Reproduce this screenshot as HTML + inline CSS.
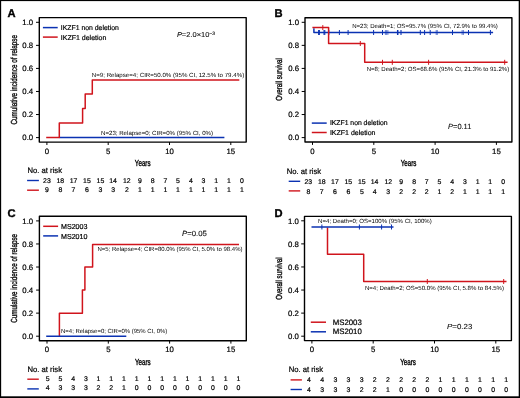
<!DOCTYPE html><html><head><meta charset="utf-8"><style>html,body{margin:0;padding:0;background:#fff;}svg{display:block;will-change:transform;}text{font-family:"Liberation Sans",sans-serif;text-rendering:geometricPrecision;stroke:#000;stroke-width:0.2px;}.ann{stroke-width:0;}.pv{stroke-width:0.1px;}</style></head><body>
<svg width="520" height="398" viewBox="0 0 520 398">
<rect x="0" y="0" width="520" height="398" fill="#fff"/>
<path d="M39.30,17.60 H246.20 V142.10 H39.30 Z" fill="none" stroke="#000" stroke-linejoin="round" stroke-width="1.4"/>
<line x1="36.00" y1="22.30" x2="39.30" y2="22.30" stroke="#000" stroke-width="1.0"/>
<text x="33.20" y="25.00" font-size="7.8" text-anchor="end" >1.0</text>
<line x1="36.00" y1="45.36" x2="39.30" y2="45.36" stroke="#000" stroke-width="1.0"/>
<text x="33.20" y="48.06" font-size="7.8" text-anchor="end" >0.8</text>
<line x1="36.00" y1="68.42" x2="39.30" y2="68.42" stroke="#000" stroke-width="1.0"/>
<text x="33.20" y="71.12" font-size="7.8" text-anchor="end" >0.6</text>
<line x1="36.00" y1="91.48" x2="39.30" y2="91.48" stroke="#000" stroke-width="1.0"/>
<text x="33.20" y="94.18" font-size="7.8" text-anchor="end" >0.4</text>
<line x1="36.00" y1="114.54" x2="39.30" y2="114.54" stroke="#000" stroke-width="1.0"/>
<text x="33.20" y="117.24" font-size="7.8" text-anchor="end" >0.2</text>
<line x1="36.00" y1="137.60" x2="39.30" y2="137.60" stroke="#000" stroke-width="1.0"/>
<text x="33.20" y="140.30" font-size="7.8" text-anchor="end" >0.0</text>
<line x1="46.90" y1="142.10" x2="46.90" y2="145.00" stroke="#000" stroke-width="1.0"/>
<text x="46.90" y="153.50" font-size="7.8" text-anchor="middle" >0</text>
<line x1="108.20" y1="142.10" x2="108.20" y2="145.00" stroke="#000" stroke-width="1.0"/>
<text x="108.20" y="153.50" font-size="7.8" text-anchor="middle" >5</text>
<line x1="169.50" y1="142.10" x2="169.50" y2="145.00" stroke="#000" stroke-width="1.0"/>
<text x="169.50" y="153.50" font-size="7.8" text-anchor="middle" >10</text>
<line x1="230.80" y1="142.10" x2="230.80" y2="145.00" stroke="#000" stroke-width="1.0"/>
<text x="230.80" y="153.50" font-size="7.8" text-anchor="middle" >15</text>
<text transform="translate(17.40,79.75) rotate(-90)" x="0" y="0" font-size="8.8" font-weight="normal" style="stroke-width:0.36px" text-anchor="middle" textLength="89.5" lengthAdjust="spacingAndGlyphs" fill="#111">Cumulative incidence of relapse</text>
<text x="142.70" y="165.80" font-size="8.8" text-anchor="middle" textLength="15.7" lengthAdjust="spacingAndGlyphs" font-weight="normal" style="stroke-width:0.36px">Years</text>
<text x="7.60" y="16.70" font-size="11.2" font-weight="bold" fill="#000" style="stroke-width:0.35px">A</text>
<path d="M59.3,137.5 H224.4" fill="none" stroke="#0b32b2" stroke-width="1.5" stroke-linejoin="round" stroke-linecap="butt"/>
<path d="M46.2,137.5 H59.3 V123.0 H82.6 V108.6 H85.2 V94.1 H92.3 V80.0 H239.3" fill="none" stroke="#d0141c" stroke-width="1.5" stroke-linejoin="round" stroke-linecap="butt"/>
<text x="91.80" y="77.30" font-size="6.0" textLength="152.4" lengthAdjust="spacingAndGlyphs" class="ann">N=9; Relapse=4; CIR=50.0% (95% CI, 12.5% to 79.4%)</text>
<text x="101.00" y="134.70" font-size="6.0" textLength="112.1" lengthAdjust="spacingAndGlyphs" class="ann">N=23; Relapse=0; CIR=0% (95% CI, 0%)</text>
<line x1="42.90" y1="27.60" x2="57.70" y2="27.60" stroke="#0b32b2" stroke-width="1.5"/>
<text x="60.80" y="30.30" font-size="7.0" textLength="58.0" lengthAdjust="spacingAndGlyphs" >IKZF1 non deletion</text>
<line x1="42.90" y1="37.10" x2="57.70" y2="37.10" stroke="#d0141c" stroke-width="1.5"/>
<text x="60.80" y="39.90" font-size="7.0" >IKZF1 deletion</text>
<text class="pv" x="176.9" y="37.3" font-size="7.1" fill="#111" textLength="38.2" lengthAdjust="spacingAndGlyphs"><tspan font-style="italic">P</tspan>=2.0×10<tspan font-size="4.8" dy="-2.7">−3</tspan></text>
<text x="27.50" y="173.00" font-size="7.9" textLength="34.5" lengthAdjust="spacingAndGlyphs" >No. at risk</text>
<line x1="27.10" y1="180.50" x2="38.90" y2="180.50" stroke="#0b32b2" stroke-width="1.4"/>
<line x1="27.10" y1="190.20" x2="38.90" y2="190.20" stroke="#d0141c" stroke-width="1.4"/>
<text x="46.90" y="182.90" font-size="6.9" text-anchor="middle" >23</text>
<text x="46.90" y="192.30" font-size="6.9" text-anchor="middle" >9</text>
<text x="60.30" y="182.90" font-size="6.9" text-anchor="middle" >18</text>
<text x="60.30" y="192.30" font-size="6.9" text-anchor="middle" >8</text>
<text x="73.50" y="182.90" font-size="6.9" text-anchor="middle" >17</text>
<text x="73.50" y="192.30" font-size="6.9" text-anchor="middle" >7</text>
<text x="86.90" y="182.90" font-size="6.9" text-anchor="middle" >15</text>
<text x="86.90" y="192.30" font-size="6.9" text-anchor="middle" >6</text>
<text x="100.40" y="182.90" font-size="6.9" text-anchor="middle" >15</text>
<text x="100.40" y="192.30" font-size="6.9" text-anchor="middle" >3</text>
<text x="113.10" y="182.90" font-size="6.9" text-anchor="middle" >14</text>
<text x="113.10" y="192.30" font-size="6.9" text-anchor="middle" >3</text>
<text x="126.80" y="182.90" font-size="6.9" text-anchor="middle" >12</text>
<text x="126.80" y="192.30" font-size="6.9" text-anchor="middle" >2</text>
<text x="139.80" y="182.90" font-size="6.9" text-anchor="middle" >9</text>
<text x="139.80" y="192.30" font-size="6.9" text-anchor="middle" >1</text>
<text x="152.70" y="182.90" font-size="6.9" text-anchor="middle" >8</text>
<text x="152.70" y="192.30" font-size="6.9" text-anchor="middle" >1</text>
<text x="165.30" y="182.90" font-size="6.9" text-anchor="middle" >7</text>
<text x="165.30" y="192.30" font-size="6.9" text-anchor="middle" >1</text>
<text x="178.00" y="182.90" font-size="6.9" text-anchor="middle" >5</text>
<text x="178.00" y="192.30" font-size="6.9" text-anchor="middle" >1</text>
<text x="190.80" y="182.90" font-size="6.9" text-anchor="middle" >4</text>
<text x="190.80" y="192.30" font-size="6.9" text-anchor="middle" >1</text>
<text x="203.40" y="182.90" font-size="6.9" text-anchor="middle" >3</text>
<text x="203.40" y="192.30" font-size="6.9" text-anchor="middle" >1</text>
<text x="216.10" y="182.90" font-size="6.9" text-anchor="middle" >1</text>
<text x="216.10" y="192.30" font-size="6.9" text-anchor="middle" >1</text>
<text x="228.80" y="182.90" font-size="6.9" text-anchor="middle" >1</text>
<text x="228.80" y="192.30" font-size="6.9" text-anchor="middle" >1</text>
<text x="241.80" y="182.90" font-size="6.9" text-anchor="middle" >0</text>
<text x="241.80" y="192.30" font-size="6.9" text-anchor="middle" >1</text>
<path d="M305.00,17.70 H511.90 V142.00 H305.00 Z" fill="none" stroke="#000" stroke-linejoin="round" stroke-width="1.4"/>
<line x1="301.70" y1="22.30" x2="305.00" y2="22.30" stroke="#000" stroke-width="1.0"/>
<text x="299.10" y="25.00" font-size="7.8" text-anchor="end" >1.0</text>
<line x1="301.70" y1="45.36" x2="305.00" y2="45.36" stroke="#000" stroke-width="1.0"/>
<text x="299.10" y="48.06" font-size="7.8" text-anchor="end" >0.8</text>
<line x1="301.70" y1="68.42" x2="305.00" y2="68.42" stroke="#000" stroke-width="1.0"/>
<text x="299.10" y="71.12" font-size="7.8" text-anchor="end" >0.6</text>
<line x1="301.70" y1="91.48" x2="305.00" y2="91.48" stroke="#000" stroke-width="1.0"/>
<text x="299.10" y="94.18" font-size="7.8" text-anchor="end" >0.4</text>
<line x1="301.70" y1="114.54" x2="305.00" y2="114.54" stroke="#000" stroke-width="1.0"/>
<text x="299.10" y="117.24" font-size="7.8" text-anchor="end" >0.2</text>
<line x1="301.70" y1="137.60" x2="305.00" y2="137.60" stroke="#000" stroke-width="1.0"/>
<text x="299.10" y="140.30" font-size="7.8" text-anchor="end" >0.0</text>
<line x1="312.50" y1="142.00" x2="312.50" y2="144.90" stroke="#000" stroke-width="1.0"/>
<text x="312.50" y="153.50" font-size="7.8" text-anchor="middle" >0</text>
<line x1="373.80" y1="142.00" x2="373.80" y2="144.90" stroke="#000" stroke-width="1.0"/>
<text x="373.80" y="153.50" font-size="7.8" text-anchor="middle" >5</text>
<line x1="435.10" y1="142.00" x2="435.10" y2="144.90" stroke="#000" stroke-width="1.0"/>
<text x="435.10" y="153.50" font-size="7.8" text-anchor="middle" >10</text>
<line x1="496.40" y1="142.00" x2="496.40" y2="144.90" stroke="#000" stroke-width="1.0"/>
<text x="496.40" y="153.50" font-size="7.8" text-anchor="middle" >15</text>
<text transform="translate(282.30,79.40) rotate(-90)" x="0" y="0" font-size="8.8" font-weight="normal" style="stroke-width:0.36px" text-anchor="middle" textLength="42.5" lengthAdjust="spacingAndGlyphs" fill="#111">Overall survival</text>
<text x="408.60" y="165.80" font-size="8.8" text-anchor="middle" textLength="15.7" lengthAdjust="spacingAndGlyphs" font-weight="normal" style="stroke-width:0.36px">Years</text>
<text x="274.60" y="16.80" font-size="11.2" font-weight="bold" fill="#000" style="stroke-width:0.35px">B</text>
<path d="M313.9,28.2 V32.5 H493.1" fill="none" stroke="#0b32b2" stroke-width="1.5" stroke-linejoin="round" stroke-linecap="butt"/>
<line x1="318.60" y1="30.00" x2="318.60" y2="35.00" stroke="#0b32b2" stroke-width="1.0"/>
<line x1="319.40" y1="30.00" x2="319.40" y2="35.00" stroke="#0b32b2" stroke-width="1.0"/>
<line x1="324.00" y1="30.00" x2="324.00" y2="35.00" stroke="#0b32b2" stroke-width="1.0"/>
<line x1="324.80" y1="30.00" x2="324.80" y2="35.00" stroke="#0b32b2" stroke-width="1.0"/>
<line x1="328.80" y1="30.00" x2="328.80" y2="35.00" stroke="#0b32b2" stroke-width="1.0"/>
<line x1="339.40" y1="30.00" x2="339.40" y2="35.00" stroke="#0b32b2" stroke-width="1.0"/>
<line x1="348.10" y1="30.00" x2="348.10" y2="35.00" stroke="#0b32b2" stroke-width="1.0"/>
<line x1="373.60" y1="30.00" x2="373.60" y2="35.00" stroke="#0b32b2" stroke-width="1.0"/>
<line x1="382.50" y1="30.00" x2="382.50" y2="35.00" stroke="#0b32b2" stroke-width="1.0"/>
<line x1="420.30" y1="30.00" x2="420.30" y2="35.00" stroke="#0b32b2" stroke-width="1.0"/>
<line x1="424.60" y1="30.00" x2="424.60" y2="35.00" stroke="#0b32b2" stroke-width="1.0"/>
<line x1="430.20" y1="30.00" x2="430.20" y2="35.00" stroke="#0b32b2" stroke-width="1.0"/>
<line x1="452.50" y1="30.00" x2="452.50" y2="35.00" stroke="#0b32b2" stroke-width="1.0"/>
<line x1="468.50" y1="30.00" x2="468.50" y2="35.00" stroke="#0b32b2" stroke-width="1.0"/>
<line x1="490.40" y1="30.00" x2="490.40" y2="35.00" stroke="#0b32b2" stroke-width="1.0"/>
<path d="M312.4,27.6 H328.6 V43.4 H364.7 V62.3 H507.6" fill="none" stroke="#d0141c" stroke-width="1.5" stroke-linejoin="round" stroke-linecap="butt"/>
<line x1="385.40" y1="30.00" x2="385.40" y2="35.00" stroke="#0b32b2" stroke-width="0.6"/>
<line x1="386.60" y1="30.00" x2="386.60" y2="35.00" stroke="#0b32b2" stroke-width="0.6"/>
<line x1="387.90" y1="30.00" x2="387.90" y2="35.00" stroke="#0b32b2" stroke-width="0.6"/>
<line x1="436.20" y1="30.00" x2="436.20" y2="35.00" stroke="#0b32b2" stroke-width="0.6"/>
<line x1="437.30" y1="30.00" x2="437.30" y2="35.00" stroke="#0b32b2" stroke-width="0.6"/>
<line x1="462.10" y1="30.00" x2="462.10" y2="35.00" stroke="#0b32b2" stroke-width="0.6"/>
<line x1="463.40" y1="30.00" x2="463.40" y2="35.00" stroke="#0b32b2" stroke-width="0.6"/>
<line x1="397.70" y1="30.00" x2="397.70" y2="35.00" stroke="#0b32b2" stroke-width="1.5"/>
<line x1="401.00" y1="30.00" x2="401.00" y2="35.00" stroke="#0b32b2" stroke-width="1.1"/>
<line x1="322.80" y1="25.10" x2="322.80" y2="30.10" stroke="#d0141c" stroke-width="1.0"/>
<line x1="360.30" y1="41.00" x2="360.30" y2="46.00" stroke="#d0141c" stroke-width="1.0"/>
<line x1="382.50" y1="59.80" x2="382.50" y2="64.80" stroke="#d0141c" stroke-width="1.0"/>
<line x1="392.30" y1="59.80" x2="392.30" y2="64.80" stroke="#d0141c" stroke-width="1.0"/>
<line x1="428.60" y1="59.80" x2="428.60" y2="64.80" stroke="#d0141c" stroke-width="1.0"/>
<line x1="504.70" y1="59.80" x2="504.70" y2="64.80" stroke="#d0141c" stroke-width="1.0"/>
<text x="352.20" y="27.80" font-size="6.0" textLength="145.7" lengthAdjust="spacingAndGlyphs" class="ann">N=23; Death=1; OS=95.7% (95% CI, 72.9% to 99.4%)</text>
<text x="366.70" y="71.00" font-size="6.0" textLength="142.5" lengthAdjust="spacingAndGlyphs" class="ann">N=8; Death=2; OS=68.6% (95% CI, 21.3% to 91.2%)</text>
<line x1="311.80" y1="123.10" x2="326.70" y2="123.10" stroke="#0b32b2" stroke-width="1.5"/>
<text x="329.90" y="125.40" font-size="7.0" textLength="57.6" lengthAdjust="spacingAndGlyphs" >IKZF1 non deletion</text>
<line x1="311.80" y1="132.50" x2="326.70" y2="132.50" stroke="#d0141c" stroke-width="1.5"/>
<text x="329.90" y="135.40" font-size="7.0" >IKZF1 deletion</text>
<text class="pv" x="448.1" y="128.9" font-size="7.4" textLength="23.2" lengthAdjust="spacingAndGlyphs" fill="#111"><tspan font-style="italic">P</tspan>=0.11</text>
<text x="286.70" y="174.40" font-size="7.9" textLength="34.5" lengthAdjust="spacingAndGlyphs" >No. at risk</text>
<line x1="288.70" y1="181.30" x2="300.20" y2="181.30" stroke="#0b32b2" stroke-width="1.4"/>
<line x1="288.70" y1="190.90" x2="300.20" y2="190.90" stroke="#d0141c" stroke-width="1.4"/>
<text x="308.35" y="184.00" font-size="6.9" text-anchor="middle" >23</text>
<text x="308.35" y="193.50" font-size="6.9" text-anchor="middle" >8</text>
<text x="321.75" y="184.00" font-size="6.9" text-anchor="middle" >18</text>
<text x="321.75" y="193.50" font-size="6.9" text-anchor="middle" >7</text>
<text x="334.95" y="184.00" font-size="6.9" text-anchor="middle" >17</text>
<text x="334.95" y="193.50" font-size="6.9" text-anchor="middle" >6</text>
<text x="348.35" y="184.00" font-size="6.9" text-anchor="middle" >15</text>
<text x="348.35" y="193.50" font-size="6.9" text-anchor="middle" >6</text>
<text x="361.85" y="184.00" font-size="6.9" text-anchor="middle" >15</text>
<text x="361.85" y="193.50" font-size="6.9" text-anchor="middle" >5</text>
<text x="374.55" y="184.00" font-size="6.9" text-anchor="middle" >14</text>
<text x="374.55" y="193.50" font-size="6.9" text-anchor="middle" >4</text>
<text x="388.25" y="184.00" font-size="6.9" text-anchor="middle" >12</text>
<text x="388.25" y="193.50" font-size="6.9" text-anchor="middle" >3</text>
<text x="401.25" y="184.00" font-size="6.9" text-anchor="middle" >9</text>
<text x="401.25" y="193.50" font-size="6.9" text-anchor="middle" >2</text>
<text x="414.15" y="184.00" font-size="6.9" text-anchor="middle" >8</text>
<text x="414.15" y="193.50" font-size="6.9" text-anchor="middle" >2</text>
<text x="426.75" y="184.00" font-size="6.9" text-anchor="middle" >7</text>
<text x="426.75" y="193.50" font-size="6.9" text-anchor="middle" >2</text>
<text x="439.45" y="184.00" font-size="6.9" text-anchor="middle" >5</text>
<text x="439.45" y="193.50" font-size="6.9" text-anchor="middle" >1</text>
<text x="452.25" y="184.00" font-size="6.9" text-anchor="middle" >4</text>
<text x="452.25" y="193.50" font-size="6.9" text-anchor="middle" >2</text>
<text x="464.85" y="184.00" font-size="6.9" text-anchor="middle" >3</text>
<text x="464.85" y="193.50" font-size="6.9" text-anchor="middle" >1</text>
<text x="477.55" y="184.00" font-size="6.9" text-anchor="middle" >1</text>
<text x="477.55" y="193.50" font-size="6.9" text-anchor="middle" >1</text>
<text x="490.25" y="184.00" font-size="6.9" text-anchor="middle" >1</text>
<text x="490.25" y="193.50" font-size="6.9" text-anchor="middle" >1</text>
<text x="503.25" y="184.00" font-size="6.9" text-anchor="middle" >0</text>
<text x="503.25" y="193.50" font-size="6.9" text-anchor="middle" >1</text>
<path d="M39.40,216.30 H246.30 V340.70 H39.40 Z" fill="none" stroke="#000" stroke-linejoin="round" stroke-width="1.4"/>
<line x1="36.10" y1="220.90" x2="39.40" y2="220.90" stroke="#000" stroke-width="1.0"/>
<text x="33.20" y="223.60" font-size="7.8" text-anchor="end" >1.0</text>
<line x1="36.10" y1="243.96" x2="39.40" y2="243.96" stroke="#000" stroke-width="1.0"/>
<text x="33.20" y="246.66" font-size="7.8" text-anchor="end" >0.8</text>
<line x1="36.10" y1="267.02" x2="39.40" y2="267.02" stroke="#000" stroke-width="1.0"/>
<text x="33.20" y="269.72" font-size="7.8" text-anchor="end" >0.6</text>
<line x1="36.10" y1="290.08" x2="39.40" y2="290.08" stroke="#000" stroke-width="1.0"/>
<text x="33.20" y="292.78" font-size="7.8" text-anchor="end" >0.4</text>
<line x1="36.10" y1="313.14" x2="39.40" y2="313.14" stroke="#000" stroke-width="1.0"/>
<text x="33.20" y="315.84" font-size="7.8" text-anchor="end" >0.2</text>
<line x1="36.10" y1="336.20" x2="39.40" y2="336.20" stroke="#000" stroke-width="1.0"/>
<text x="33.20" y="338.90" font-size="7.8" text-anchor="end" >0.0</text>
<line x1="47.00" y1="340.70" x2="47.00" y2="343.60" stroke="#000" stroke-width="1.0"/>
<text x="47.00" y="352.30" font-size="7.8" text-anchor="middle" >0</text>
<line x1="108.30" y1="340.70" x2="108.30" y2="343.60" stroke="#000" stroke-width="1.0"/>
<text x="108.30" y="352.30" font-size="7.8" text-anchor="middle" >5</text>
<line x1="169.60" y1="340.70" x2="169.60" y2="343.60" stroke="#000" stroke-width="1.0"/>
<text x="169.60" y="352.30" font-size="7.8" text-anchor="middle" >10</text>
<line x1="230.90" y1="340.70" x2="230.90" y2="343.60" stroke="#000" stroke-width="1.0"/>
<text x="230.90" y="352.30" font-size="7.8" text-anchor="middle" >15</text>
<text transform="translate(17.40,278.40) rotate(-90)" x="0" y="0" font-size="8.8" font-weight="normal" style="stroke-width:0.36px" text-anchor="middle" textLength="88.8" lengthAdjust="spacingAndGlyphs" fill="#111">Cumulative incidence of relapse</text>
<text x="142.80" y="364.60" font-size="8.8" text-anchor="middle" textLength="15.7" lengthAdjust="spacingAndGlyphs" font-weight="normal" style="stroke-width:0.36px">Years</text>
<text x="7.60" y="217.00" font-size="11.2" font-weight="bold" fill="#000" style="stroke-width:0.35px">C</text>
<path d="M59.4,336.9 V313.3 H82.4 V290.1 H84.9 V267.0 H92.6 V244.4 H239.0" fill="none" stroke="#d0141c" stroke-width="1.5" stroke-linejoin="round" stroke-linecap="butt"/>
<path d="M46.2,336.3 H126.3" fill="none" stroke="#0b32b2" stroke-width="1.5" stroke-linejoin="round" stroke-linecap="butt"/>
<text x="97.50" y="250.90" font-size="6.0" textLength="145.0" lengthAdjust="spacingAndGlyphs" class="ann">N=5; Relapse=4; CIR=80.0% (95% CI, 5.0% to 98.4%)</text>
<text x="61.00" y="332.80" font-size="6.0" textLength="106.3" lengthAdjust="spacingAndGlyphs" class="ann">N=4; Relapse=0; CIR=0% (95% CI, 0%)</text>
<line x1="43.20" y1="226.30" x2="58.10" y2="226.30" stroke="#d0141c" stroke-width="1.5"/>
<text x="61.00" y="229.20" font-size="7.2" textLength="26.5" lengthAdjust="spacingAndGlyphs" >MS2003</text>
<line x1="43.20" y1="235.90" x2="58.10" y2="235.90" stroke="#0b32b2" stroke-width="1.5"/>
<text x="61.00" y="238.80" font-size="7.2" textLength="26.5" lengthAdjust="spacingAndGlyphs" >MS2010</text>
<text class="pv" x="182.0" y="235.6" font-size="7.5" textLength="24.8" lengthAdjust="spacingAndGlyphs" fill="#111"><tspan font-style="italic">P</tspan>=0.05</text>
<text x="27.50" y="372.00" font-size="7.9" textLength="34.5" lengthAdjust="spacingAndGlyphs" >No. at risk</text>
<line x1="27.30" y1="379.20" x2="38.80" y2="379.20" stroke="#d0141c" stroke-width="1.4"/>
<line x1="27.30" y1="388.90" x2="38.80" y2="388.90" stroke="#0b32b2" stroke-width="1.4"/>
<text x="47.70" y="381.00" font-size="6.9" text-anchor="middle" >5</text>
<text x="47.70" y="390.20" font-size="6.9" text-anchor="middle" >4</text>
<text x="60.41" y="381.00" font-size="6.9" text-anchor="middle" >5</text>
<text x="60.41" y="390.20" font-size="6.9" text-anchor="middle" >3</text>
<text x="73.12" y="381.00" font-size="6.9" text-anchor="middle" >4</text>
<text x="73.12" y="390.20" font-size="6.9" text-anchor="middle" >3</text>
<text x="85.83" y="381.00" font-size="6.9" text-anchor="middle" >3</text>
<text x="85.83" y="390.20" font-size="6.9" text-anchor="middle" >3</text>
<text x="98.54" y="381.00" font-size="6.9" text-anchor="middle" >1</text>
<text x="98.54" y="390.20" font-size="6.9" text-anchor="middle" >2</text>
<text x="111.25" y="381.00" font-size="6.9" text-anchor="middle" >1</text>
<text x="111.25" y="390.20" font-size="6.9" text-anchor="middle" >2</text>
<text x="123.96" y="381.00" font-size="6.9" text-anchor="middle" >1</text>
<text x="123.96" y="390.20" font-size="6.9" text-anchor="middle" >1</text>
<text x="136.67" y="381.00" font-size="6.9" text-anchor="middle" >1</text>
<text x="136.67" y="390.20" font-size="6.9" text-anchor="middle" >0</text>
<text x="149.38" y="381.00" font-size="6.9" text-anchor="middle" >1</text>
<text x="149.38" y="390.20" font-size="6.9" text-anchor="middle" >0</text>
<text x="162.09" y="381.00" font-size="6.9" text-anchor="middle" >1</text>
<text x="162.09" y="390.20" font-size="6.9" text-anchor="middle" >0</text>
<text x="174.80" y="381.00" font-size="6.9" text-anchor="middle" >1</text>
<text x="174.80" y="390.20" font-size="6.9" text-anchor="middle" >0</text>
<text x="187.51" y="381.00" font-size="6.9" text-anchor="middle" >1</text>
<text x="187.51" y="390.20" font-size="6.9" text-anchor="middle" >0</text>
<text x="200.22" y="381.00" font-size="6.9" text-anchor="middle" >1</text>
<text x="200.22" y="390.20" font-size="6.9" text-anchor="middle" >0</text>
<text x="212.93" y="381.00" font-size="6.9" text-anchor="middle" >1</text>
<text x="212.93" y="390.20" font-size="6.9" text-anchor="middle" >0</text>
<text x="225.64" y="381.00" font-size="6.9" text-anchor="middle" >1</text>
<text x="225.64" y="390.20" font-size="6.9" text-anchor="middle" >0</text>
<text x="238.35" y="381.00" font-size="6.9" text-anchor="middle" >1</text>
<text x="238.35" y="390.20" font-size="6.9" text-anchor="middle" >0</text>
<path d="M304.50,216.40 H511.40 V340.60 H304.50 Z" fill="none" stroke="#000" stroke-linejoin="round" stroke-width="1.4"/>
<line x1="301.20" y1="220.80" x2="304.50" y2="220.80" stroke="#000" stroke-width="1.0"/>
<text x="298.90" y="223.50" font-size="7.8" text-anchor="end" >1.0</text>
<line x1="301.20" y1="243.88" x2="304.50" y2="243.88" stroke="#000" stroke-width="1.0"/>
<text x="298.90" y="246.58" font-size="7.8" text-anchor="end" >0.8</text>
<line x1="301.20" y1="266.96" x2="304.50" y2="266.96" stroke="#000" stroke-width="1.0"/>
<text x="298.90" y="269.66" font-size="7.8" text-anchor="end" >0.6</text>
<line x1="301.20" y1="290.04" x2="304.50" y2="290.04" stroke="#000" stroke-width="1.0"/>
<text x="298.90" y="292.74" font-size="7.8" text-anchor="end" >0.4</text>
<line x1="301.20" y1="313.12" x2="304.50" y2="313.12" stroke="#000" stroke-width="1.0"/>
<text x="298.90" y="315.82" font-size="7.8" text-anchor="end" >0.2</text>
<line x1="301.20" y1="336.20" x2="304.50" y2="336.20" stroke="#000" stroke-width="1.0"/>
<text x="298.90" y="338.90" font-size="7.8" text-anchor="end" >0.0</text>
<line x1="311.90" y1="340.60" x2="311.90" y2="343.50" stroke="#000" stroke-width="1.0"/>
<text x="311.90" y="352.30" font-size="7.8" text-anchor="middle" >0</text>
<line x1="373.20" y1="340.60" x2="373.20" y2="343.50" stroke="#000" stroke-width="1.0"/>
<text x="373.20" y="352.30" font-size="7.8" text-anchor="middle" >5</text>
<line x1="434.50" y1="340.60" x2="434.50" y2="343.50" stroke="#000" stroke-width="1.0"/>
<text x="434.50" y="352.30" font-size="7.8" text-anchor="middle" >10</text>
<line x1="495.80" y1="340.60" x2="495.80" y2="343.50" stroke="#000" stroke-width="1.0"/>
<text x="495.80" y="352.30" font-size="7.8" text-anchor="middle" >15</text>
<text transform="translate(282.30,278.60) rotate(-90)" x="0" y="0" font-size="8.8" font-weight="normal" style="stroke-width:0.36px" text-anchor="middle" textLength="42.5" lengthAdjust="spacingAndGlyphs" fill="#111">Overall survival</text>
<text x="408.00" y="364.60" font-size="8.8" text-anchor="middle" textLength="15.7" lengthAdjust="spacingAndGlyphs" font-weight="normal" style="stroke-width:0.36px">Years</text>
<text x="274.60" y="216.90" font-size="11.2" font-weight="bold" fill="#000" style="stroke-width:0.35px">D</text>
<path d="M327.5,227.5 V254.3 H363.7 V281.5 H506.5" fill="none" stroke="#d0141c" stroke-width="1.5" stroke-linejoin="round" stroke-linecap="butt"/>
<line x1="427.30" y1="279.00" x2="427.30" y2="284.00" stroke="#d0141c" stroke-width="1.0"/>
<line x1="503.70" y1="279.00" x2="503.70" y2="284.00" stroke="#d0141c" stroke-width="1.0"/>
<path d="M311.5,227.0 H393.5" fill="none" stroke="#0b32b2" stroke-width="1.5" stroke-linejoin="round" stroke-linecap="butt"/>
<line x1="321.90" y1="224.50" x2="321.90" y2="229.50" stroke="#0b32b2" stroke-width="1.0"/>
<line x1="359.40" y1="224.50" x2="359.40" y2="229.50" stroke="#0b32b2" stroke-width="1.0"/>
<line x1="381.60" y1="224.50" x2="381.60" y2="229.50" stroke="#0b32b2" stroke-width="1.0"/>
<line x1="391.50" y1="224.50" x2="391.50" y2="229.50" stroke="#0b32b2" stroke-width="1.0"/>
<text x="318.10" y="222.80" font-size="6.0" textLength="113.6" lengthAdjust="spacingAndGlyphs" class="ann">N=4; Death=0; OS=100% (95% CI, 100%)</text>
<text x="364.90" y="290.30" font-size="6.0" textLength="139.1" lengthAdjust="spacingAndGlyphs" class="ann">N=4; Death=2; OS=50.0% (95% CI, 5.8% to 84.5%)</text>
<line x1="310.80" y1="322.20" x2="326.00" y2="322.20" stroke="#d0141c" stroke-width="1.5"/>
<text x="332.70" y="324.70" font-size="7.8" textLength="29.1" lengthAdjust="spacingAndGlyphs" >MS2003</text>
<line x1="310.80" y1="331.80" x2="326.00" y2="331.80" stroke="#0b32b2" stroke-width="1.5"/>
<text x="332.70" y="334.30" font-size="7.8" textLength="29.1" lengthAdjust="spacingAndGlyphs" >MS2010</text>
<text class="pv" x="447.1" y="328.5" font-size="7.3" textLength="25.2" lengthAdjust="spacingAndGlyphs" fill="#111"><tspan font-style="italic">P</tspan>=0.23</text>
<text x="288.70" y="371.80" font-size="7.9" textLength="34.5" lengthAdjust="spacingAndGlyphs" >No. at risk</text>
<line x1="290.60" y1="379.90" x2="301.90" y2="379.90" stroke="#d0141c" stroke-width="1.4"/>
<line x1="290.60" y1="389.50" x2="301.90" y2="389.50" stroke="#0b32b2" stroke-width="1.4"/>
<text x="309.00" y="381.80" font-size="6.9" text-anchor="middle" >4</text>
<text x="309.00" y="392.00" font-size="6.9" text-anchor="middle" >4</text>
<text x="322.15" y="381.80" font-size="6.9" text-anchor="middle" >4</text>
<text x="322.15" y="392.00" font-size="6.9" text-anchor="middle" >3</text>
<text x="335.30" y="381.80" font-size="6.9" text-anchor="middle" >3</text>
<text x="335.30" y="392.00" font-size="6.9" text-anchor="middle" >3</text>
<text x="348.45" y="381.80" font-size="6.9" text-anchor="middle" >3</text>
<text x="348.45" y="392.00" font-size="6.9" text-anchor="middle" >3</text>
<text x="361.60" y="381.80" font-size="6.9" text-anchor="middle" >3</text>
<text x="361.60" y="392.00" font-size="6.9" text-anchor="middle" >2</text>
<text x="374.75" y="381.80" font-size="6.9" text-anchor="middle" >2</text>
<text x="374.75" y="392.00" font-size="6.9" text-anchor="middle" >2</text>
<text x="387.90" y="381.80" font-size="6.9" text-anchor="middle" >2</text>
<text x="387.90" y="392.00" font-size="6.9" text-anchor="middle" >1</text>
<text x="401.05" y="381.80" font-size="6.9" text-anchor="middle" >2</text>
<text x="401.05" y="392.00" font-size="6.9" text-anchor="middle" >0</text>
<text x="414.20" y="381.80" font-size="6.9" text-anchor="middle" >2</text>
<text x="414.20" y="392.00" font-size="6.9" text-anchor="middle" >0</text>
<text x="427.35" y="381.80" font-size="6.9" text-anchor="middle" >2</text>
<text x="427.35" y="392.00" font-size="6.9" text-anchor="middle" >0</text>
<text x="440.50" y="381.80" font-size="6.9" text-anchor="middle" >1</text>
<text x="440.50" y="392.00" font-size="6.9" text-anchor="middle" >0</text>
<text x="453.65" y="381.80" font-size="6.9" text-anchor="middle" >1</text>
<text x="453.65" y="392.00" font-size="6.9" text-anchor="middle" >0</text>
<text x="466.80" y="381.80" font-size="6.9" text-anchor="middle" >1</text>
<text x="466.80" y="392.00" font-size="6.9" text-anchor="middle" >0</text>
<text x="479.95" y="381.80" font-size="6.9" text-anchor="middle" >1</text>
<text x="479.95" y="392.00" font-size="6.9" text-anchor="middle" >0</text>
<text x="493.10" y="381.80" font-size="6.9" text-anchor="middle" >1</text>
<text x="493.10" y="392.00" font-size="6.9" text-anchor="middle" >0</text>
<text x="506.25" y="381.80" font-size="6.9" text-anchor="middle" >1</text>
<text x="506.25" y="392.00" font-size="6.9" text-anchor="middle" >0</text>
<rect x="0" y="0" width="520" height="1.1" fill="#000"/><rect x="0" y="0" width="1.15" height="398" fill="#000"/><rect x="518.7" y="0" width="1.3" height="398" fill="#000"/><rect x="0" y="396.3" width="520" height="1.7" fill="#000"/>
</svg></body></html>
